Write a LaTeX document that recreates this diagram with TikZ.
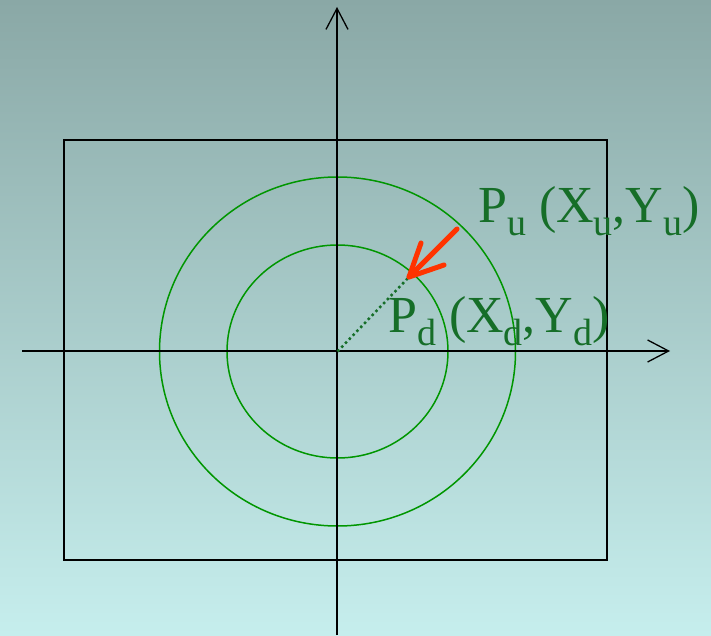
\documentclass[tikz,border=0pt]{standalone}
\usepackage{fontspec}
\setmainfont{Liberation Serif}
\usetikzlibrary{arrows.meta}
\definecolor{bgtop}{RGB}{138,168,166}
\definecolor{bgbot}{RGB}{198,238,237}
\definecolor{circgreen}{RGB}{0,150,0}
\definecolor{txtgreen}{RGB}{22,110,40}
\definecolor{arrred}{RGB}{255,51,0}
\newcommand\lowsub[1]{\raisebox{-13pt}{\fontsize{38}{38}\selectfont #1}}
\begin{document}
\begin{tikzpicture}[x=1pt,y=1pt,
  axis/.style={black,line width=1.3pt,-{Straight Barb[length=21pt,width=22pt]}},
  frame/.style={black,line width=1.3pt},
  ring/.style={circgreen,line width=1.5pt},
  lbl/.style={txtgreen,inner sep=0pt,anchor=base west,font=\fontsize{52}{52}\selectfont},
  radius/.style={txtgreen,line width=2.5pt,dash pattern=on 2.5pt off 3pt},
  pointer/.style={arrred,line width=5pt,line cap=round,line join=round}]
\useasboundingbox (0,0) rectangle (711,635);
\shade[top color=bgtop,bottom color=bgbot] (0,0) rectangle (711,635);
\coordinate (ybot) at (337,0);
\coordinate (ytop) at (337,628);
\coordinate (xl) at (22,284);
\coordinate (xr) at (670,284);
\coordinate (O) at (337.5,283.5);
\coordinate (Pd) at (409,358);
\coordinate (Ps) at (457,406);
\coordinate (barbA) at (421,392);
\coordinate (barbB) at (444,370);
\node[frame,draw,minimum width=543pt,minimum height=420pt,inner sep=0pt] (box) at (335.5,285) {};
\draw[ring] (O) ellipse [x radius=178pt,y radius=174.5pt];
\draw[ring] (O) ellipse [x radius=110.5pt,y radius=106.5pt];
\draw[axis] (xl) -- (xr);
\draw[axis] (ybot) -- (ytop);
\draw[radius] (O) -- (Pd);
\draw[pointer] (Ps) -- (Pd);
\draw[pointer] (barbA) -- (Pd) -- (barbB);
\node[lbl] (lu) at (478,412) {P\lowsub{u} (X\lowsub{u},Y\lowsub{u})};
\node[lbl] (ld) at (388,302) {P\lowsub{d} (X\lowsub{d},Y\lowsub{d})};
\end{tikzpicture}
\end{document}
